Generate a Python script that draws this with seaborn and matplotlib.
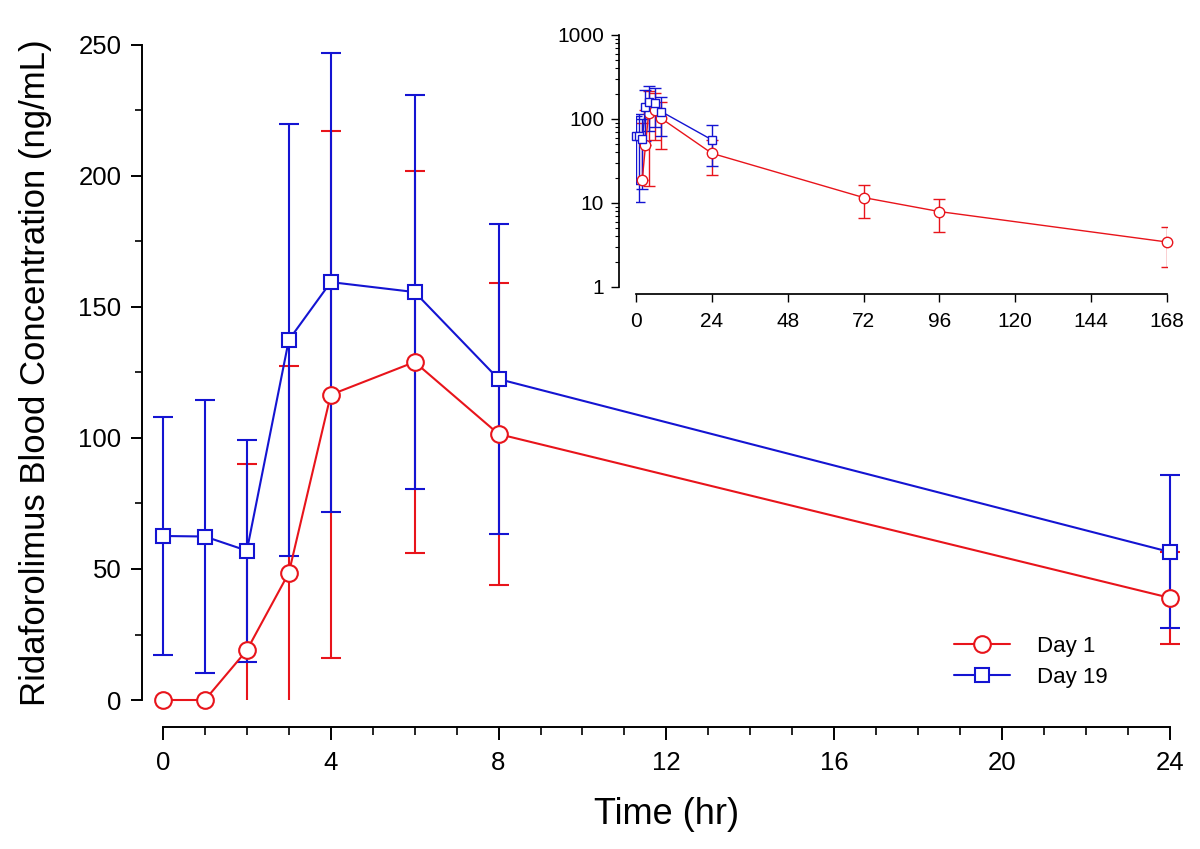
import matplotlib

matplotlib.use("Agg")
import matplotlib.pyplot as plt
import numpy as np
import seaborn as sns
from matplotlib.patches import Rectangle
from matplotlib.ticker import MultipleLocator, LogLocator, NullFormatter

# main panel (0-24 h)
time_main = [0, 1, 2, 3, 4, 6, 8, 24]
day1_mean = [0, 0, 19, 48.5, 116.5, 129, 101.5, 39]
day1_sd = [0, 0, 71, 79, 100.5, 73, 57.5, 17.6]
day19_mean = [62.6, 62.4, 57, 137.4, 159.5, 155.7, 122.5, 56.5]
day19_sd = [45.6, 52, 42.4, 82.5, 87.6, 75.3, 59, 29.2]

# inset (0-168 h, log scale); day 1 zeros left out
time_d1_log = [2, 3, 4, 6, 8, 24, 72, 96, 168]
day1_log_mean = [19, 48.5, 116.5, 129, 101.5, 39, 11.6, 7.9, 3.43]
day1_log_sd = [71, 79, 100.5, 73, 57.5, 17.6, 4.9, 3.4, 1.7]
time_d19_log = [0, 1, 2, 3, 4, 6, 8, 24]

RED = "#E8141B"
BLUE = "#1414D2"
FONT = ["Liberation Sans", "DejaVu Sans"]

sns.set_theme(style="ticks")
plt.rcParams["font.family"] = FONT
plt.rcParams["text.color"] = "black"
plt.rcParams["axes.labelcolor"] = "black"
plt.rcParams["xtick.color"] = "black"
plt.rcParams["ytick.color"] = "black"
plt.rcParams["axes.edgecolor"] = "black"
plt.rcParams["xtick.direction"] = "out"
plt.rcParams["ytick.direction"] = "out"

fig = plt.figure(figsize=(12, 8.49), dpi=100, facecolor="white")
ax = fig.add_axes([0.1358, 0.1755, 0.839, 0.7715])


def draw(ax, t, m, sd, color, marker, ms, lw, cap, clip_zero=True, log=False):
    m = np.asarray(m, float)
    sd = np.asarray(sd, float)
    low = np.where(m - sd > 0, sd, 0) if log else sd
    has = sd > 0
    t = np.asarray(t, float)
    eb = ax.errorbar(t[has], m[has], yerr=[low[has], sd[has]], fmt="none",
                     ecolor=color, elinewidth=lw, capsize=cap, capthick=lw, zorder=2)
    if clip_zero:
        rect = Rectangle((-1, 0), 200, 1000, transform=ax.transData)
        for art in list(eb.lines[1]) + list(eb.lines[2]):
            art.set_clip_path(rect)
    sns.lineplot(x=t, y=m, ax=ax, color=color, lw=lw, marker=marker, markersize=ms,
                 markerfacecolor="white", markeredgecolor=color, markeredgewidth=lw,
                 zorder=3, clip_on=False, legend=False)


draw(ax, time_main, day1_mean, day1_sd, RED, "o", 12, 1.5, 7)
draw(ax, time_main, day19_mean, day19_sd, BLUE, "s", 9.5, 1.5, 7)

ax.set_xlim(0, 24)
ax.set_ylim(0, 250)
ax.xaxis.set_major_locator(MultipleLocator(4))
ax.xaxis.set_minor_locator(MultipleLocator(1))
ax.yaxis.set_major_locator(MultipleLocator(50))
ax.yaxis.set_minor_locator(MultipleLocator(25))
ax.tick_params(which="major", length=8, width=1.4, labelsize=18.5, pad=7)
ax.tick_params(which="minor", length=5, width=1.2)
ax.tick_params(axis="x", which="major", length=9, pad=8)
ax.tick_params(axis="x", which="minor", length=6)
for side in ["top", "right"]:
    ax.spines[side].set_visible(False)
ax.spines["left"].set_position(("outward", 15))
ax.spines["bottom"].set_position(("outward", 19.5))
ax.spines["left"].set_linewidth(1.4)
ax.spines["bottom"].set_linewidth(1.4)
ax.set_xlabel("Time (hr)", fontsize=26, labelpad=16)
ax.set_ylabel("Ridaforolimus Blood Concentration (ng/mL)", fontsize=25, labelpad=19)

h1 = plt.Line2D([], [], color=RED, lw=1.5, marker="o", ms=12, mfc="white", mec=RED, mew=1.5)
h2 = plt.Line2D([], [], color=BLUE, lw=1.5, marker="s", ms=9.5, mfc="white", mec=BLUE, mew=1.5)
ax.legend([h1, h2], ["Day 1", "Day 19"], loc="lower right", bbox_to_anchor=(0.938, 0.018),
          frameon=False, fontsize=16, handlelength=2.5, handletextpad=1.2,
          labelspacing=0.45, borderpad=0, borderaxespad=0)

# inset
ins = fig.add_axes([0.53, 0.662, 0.4425, 0.2968])
draw(ins, time_d1_log, day1_log_mean, day1_log_sd, RED, "o", 7.5, 1.0, 4, clip_zero=False, log=True)
draw(ins, time_d19_log, day19_mean, day19_sd, BLUE, "s", 6, 1.0, 4, clip_zero=False, log=True)
ins.set_yscale("log")
ins.set_xlim(0, 168)
ins.set_ylim(1, 1000)
ins.set_xticks(np.arange(0, 169, 24))
ins.set_yticks([1, 10, 100, 1000])
ins.set_yticklabels(["1", "10", "100", "1000"])
ins.yaxis.set_minor_locator(LogLocator(base=10, subs=np.arange(2, 10)))
ins.yaxis.set_minor_formatter(NullFormatter())
ins.tick_params(which="major", length=6, width=1.0, labelsize=15, pad=5)
ins.tick_params(which="minor", length=3, width=0.8)
ins.tick_params(axis="x", pad=7)
for side in ["top", "right"]:
    ins.spines[side].set_visible(False)
ins.spines["left"].set_position(("outward", 12))
ins.spines["bottom"].set_position(("outward", 5))
ins.set_facecolor("none")

fig.savefig("out.png", dpi=100, facecolor="white")
